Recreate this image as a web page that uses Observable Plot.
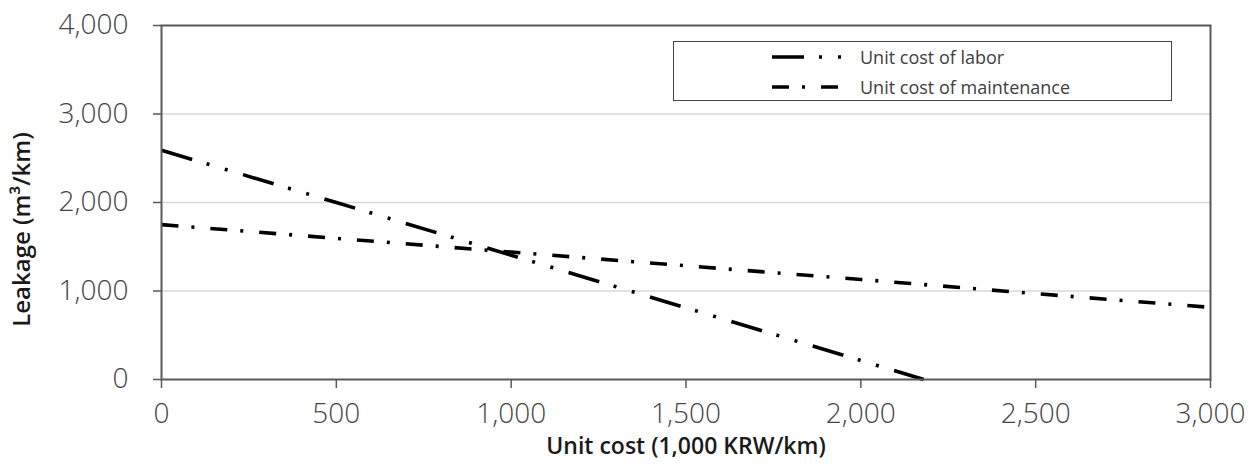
<!DOCTYPE html>
<html>
<head>
<meta charset="utf-8">
<script src="https://cdn.jsdelivr.net/npm/d3@7"></script>
<script src="https://cdn.jsdelivr.net/npm/@observablehq/plot@0.6"></script>
<style>
  body { margin: 0; background: #fff; }
  #wrap { position: relative; width: 1255px; height: 464px; font-family: "Open Sans", "Noto Sans", sans-serif; }
  #legend { position: absolute; left: 673px; top: 41px; width: 499px; height: 60px; box-sizing: border-box;
            border: 1.5px solid #444; background: #fff; }
  .row { position: absolute; left: 98px; height: 20px; display: flex; align-items: center; }
  .row span { margin-left: 18px; font-size: 18px; color: #404040; white-space: nowrap; }
</style>
</head>
<body>
<div id="wrap">
  <div id="chart"></div>
  <div id="legend"></div>
</div>
<script>
// ---- data ----
const laborCost = [0, 500, 1000, 1500, 2000, 2180];
const laborLeak = [2590, 2000, 1405, 810, 215, 0];
const maintCost = [0, 500, 1000, 1500, 2000, 2500, 3000];
const maintLeak = [1750, 1595, 1440, 1285, 1130, 970, 815];
const seriesNames = ["Unit cost of labor", "Unit cost of maintenance"];
const xTicks = [0, 500, 1000, 1500, 2000, 2500, 3000];
const yTicks = [0, 1000, 2000, 3000, 4000];
const xTitle = "Unit cost (1,000 KRW/km)";
const yTitle = "Leakage (m\u00B3/km)";

const dashLabor = "32,15,3,16,3,16";
const dashMaint = "17,13,3,16";

const labor = laborCost.map((c, i) => ({cost: c, leak: laborLeak[i]}));
const maint = maintCost.map((c, i) => ({cost: c, leak: maintLeak[i]}));

const axisColor = "#595959";
const labelColor = "#454545";
const font = "'Open Sans', 'Noto Sans', sans-serif";

const chart = Plot.plot({
  width: 1255,
  height: 464,
  marginLeft: 161,
  marginRight: 45,
  marginTop: 25,
  marginBottom: 85,
  style: {fontFamily: font, background: "transparent", overflow: "visible"},
  x: {domain: [0, 3000]},
  y: {domain: [0, 4000]},
  marks: [
    Plot.gridY(yTicks.filter(v => v > 0 && v < 4000), {stroke: "#d9d9d9", strokeOpacity: 1, strokeWidth: 1.5}),
    Plot.line(maint, {x: "cost", y: "leak", stroke: "#000", strokeWidth: 3.6, strokeDasharray: dashMaint, strokeLinecap: "butt"}),
    Plot.line(labor, {x: "cost", y: "leak", stroke: "#000", strokeWidth: 3.6, strokeDasharray: dashLabor, strokeLinecap: "butt"}),
    Plot.frame({stroke: axisColor, strokeWidth: 2}),
    Plot.axisX(xTicks, {tickSize: 9, tickPadding: 15, tickFormat: d3.format(","), label: null,
      stroke: axisColor, fill: labelColor, fontSize: 28, fontWeight: 300, strokeWidth: 1.5}),
    Plot.axisY(yTicks, {tickSize: 8, tickPadding: 25, tickFormat: d3.format(","), label: null,
      stroke: axisColor, fill: labelColor, fontSize: 28, fontWeight: 300, strokeWidth: 1.5}),
    Plot.text([yTitle], {text: d => d, frameAnchor: "left", dx: -139, dy: 27, rotate: -90,
      fontSize: 24, fontWeight: 600, fill: "#1a1a1a", textAnchor: "middle"}),
    Plot.text([xTitle], {text: d => d, frameAnchor: "bottom", dy: 67, lineAnchor: "middle",
      fontSize: 23, fontWeight: 600, fill: "#1a1a1a"})
  ]
});
document.getElementById("chart").appendChild(chart);

// legend
const legend = document.getElementById("legend");
[[seriesNames[0], dashLabor, 5], [seriesNames[1], dashMaint, 35]].forEach(([name, dash, top]) => {
  const row = document.createElement("div");
  row.className = "row";
  row.style.top = top + "px";
  row.innerHTML = `<svg width="70" height="10"><line x1="0" y1="5" x2="70" y2="5" stroke="#000" stroke-width="3.6" stroke-dasharray="${dash}" stroke-linecap="butt"/></svg><span>${name}</span>`;
  legend.appendChild(row);
});
</script>
</body>
</html>
